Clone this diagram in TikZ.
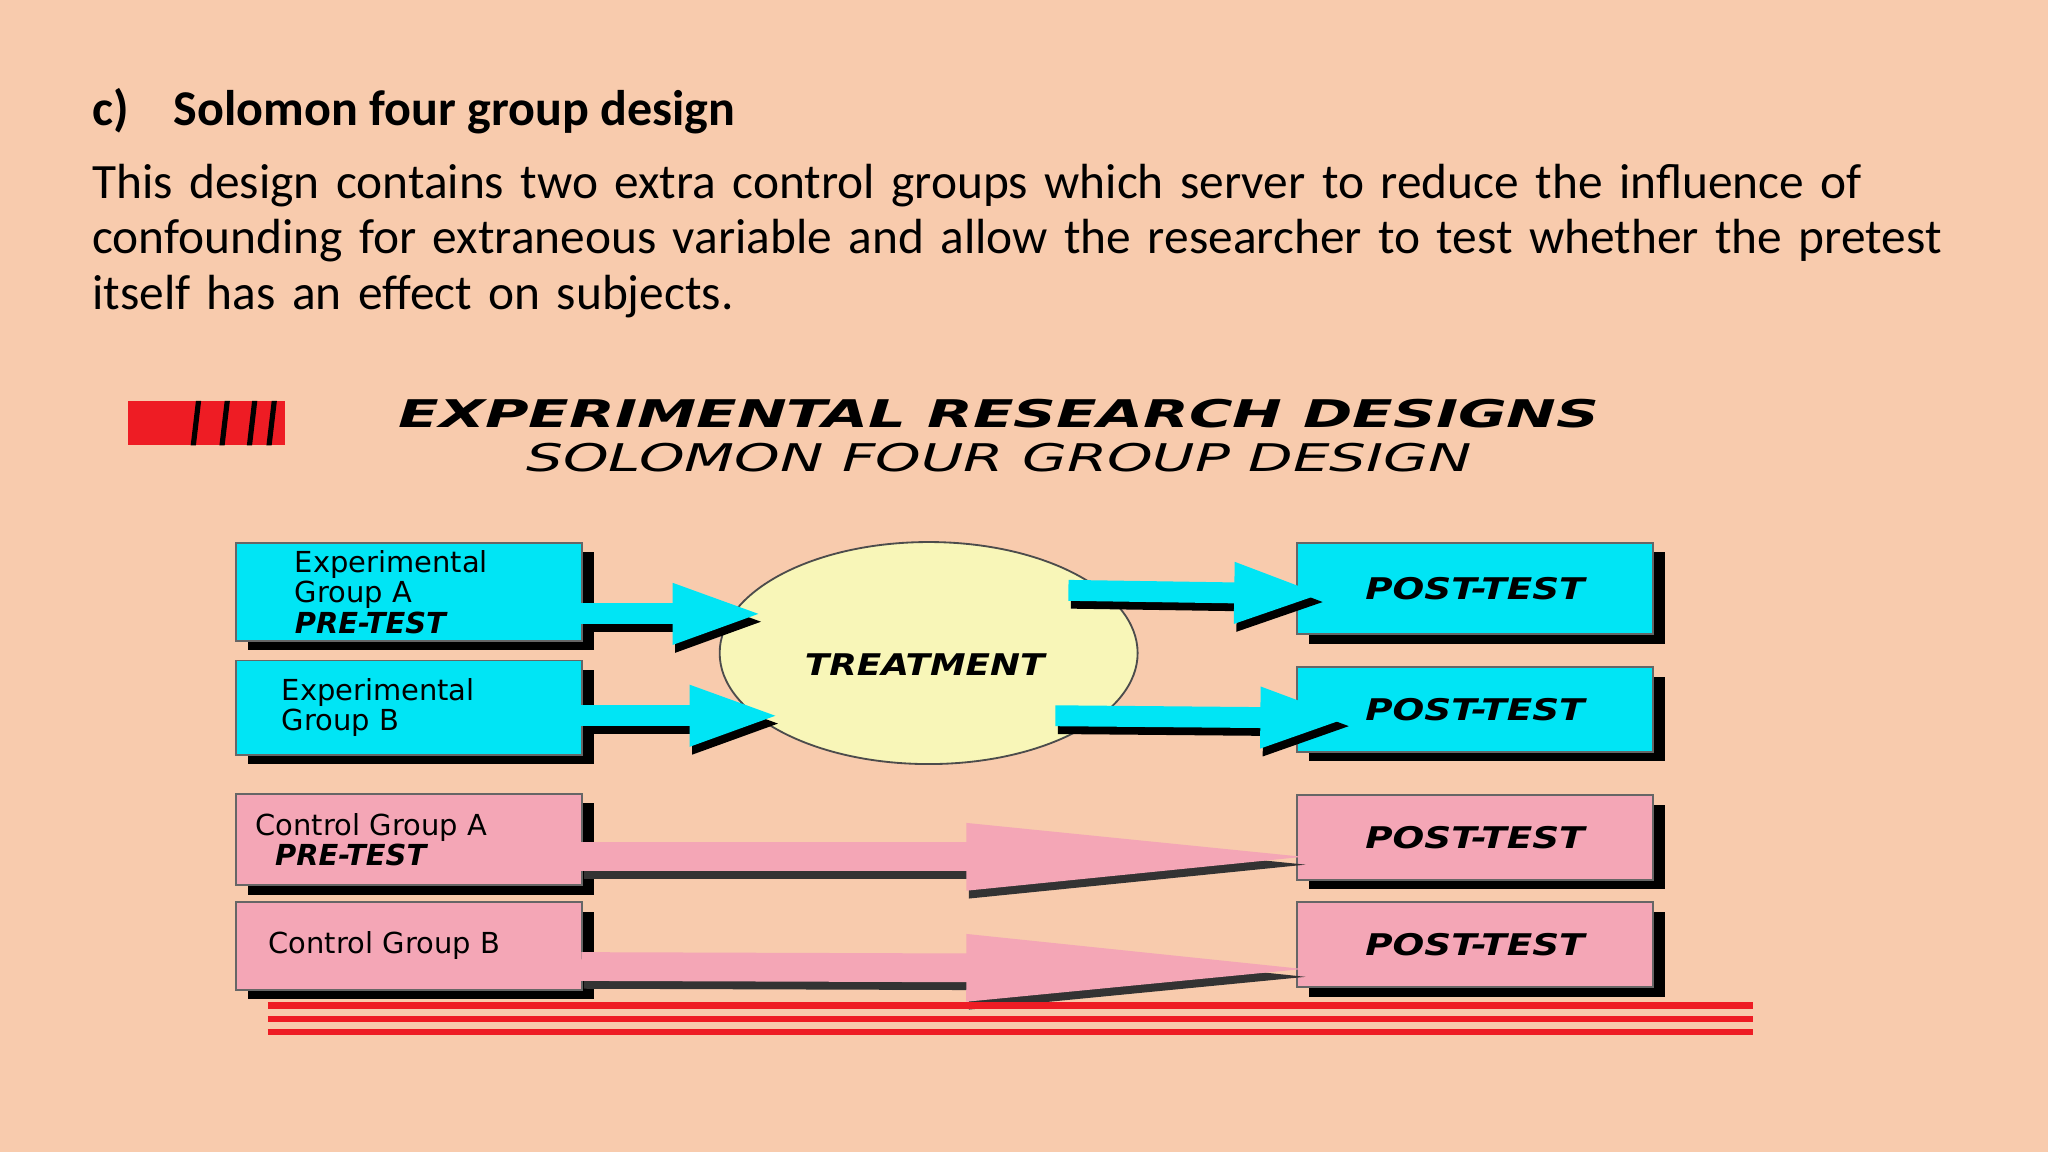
\documentclass[tikz,border=0pt]{standalone}
\usepackage{fontspec}
\setmainfont{Carlito}
\newfontfamily\diag{DejaVu Sans}
\usetikzlibrary{arrows.meta}
\definecolor{bg}{HTML}{F8CBAD}
\definecolor{cy}{HTML}{00E5F5}
\definecolor{pk}{HTML}{F4A6B6}
\definecolor{ell}{HTML}{F8F6B8}
\definecolor{rd}{HTML}{EE1C24}
\tikzset{
 box/.style={draw=black!60,line width=0.4pt,minimum width=2.65cm,anchor=north west,inner sep=0pt,
   font=\diag\fontsize{6.3}{6.6}\selectfont,text width=2.55cm,align=left},
 pbox/.style={box,minimum width=2.73cm,align=center,text width=2.5cm},
 shadow/.style={fill=black},
 cyarrow/.style={line width=0.16cm,cy,-{Triangle[length=0.7cm,width=0.42cm]}},
 pkarrow/.style={line width=0.22cm,pk,-{Triangle[length=2.9cm,width=0.45cm]}},
 sharrow/.style={line width=0.16cm,black,-{Triangle[length=0.7cm,width=0.42cm]}},
 spkarrow/.style={line width=0.22cm,black!80,-{Triangle[length=2.9cm,width=0.45cm]}},
}
\begin{document}
\begin{tikzpicture}[x=0.01cm,y=-0.01cm]
\fill[bg] (0,0) rectangle (1568,882);
\useasboundingbox (0,0) rectangle (1568,882);
\node[anchor=base west,inner sep=0pt,font=\fontsize{10.9}{12}\selectfont\bfseries] (ttl) at (70,96) {c)\hspace{0.9em}Solomon four group design};
\node[anchor=north west,text width=14.9cm,align=left,inner sep=0pt,font=\fontsize{10.75}{12.05}\selectfont] (body) at (70,125)
 {This design contains two extra control groups which server to reduce the influence of\\ confounding for extraneous variable and allow the researcher to test whether the pretest\\ itself has an effect on subjects.};
% icon
\fill[rd] (98,307) rectangle (218,341);
\foreach \x in {150,172,193,208}{\fill[black] (\x,307) -- (\x+4,307) -- (\x,341) -- (\x-4,341) -- cycle;}
\node[font=\diag\bfseries\itshape\fontsize{8.3}{9}\selectfont,xscale=1.56] (h1) at (765,317) {EXPERIMENTAL RESEARCH DESIGNS};
\node[font=\diag\itshape\fontsize{8.3}{9}\selectfont,xscale=1.52] (h2) at (765,350) {SOLOMON FOUR GROUP DESIGN};
% ellipse
\draw[fill=ell,draw=black!70] (711,500) ellipse [x radius=160,y radius=85];
\node[font=\diag\bfseries\itshape\fontsize{6.5}{7}\selectfont,xscale=1.2] (tr) at (708,509) {TREATMENT};
% shadows
\foreach \y/\h in {415/75,505/72,607/70,690/67}{\fill[shadow] (190,\y+8) rectangle (455,\y+\h+8);}
\foreach \y/\h in {415/70,510/65,608/65,690/65}{\fill[shadow] (1002,\y+8) rectangle (1275,\y+\h+8);}
\node[box,fill=cy,minimum height=0.75cm] (ea) at (180,415) {\hspace*{0.4cm}Experimental\\\hspace*{0.4cm}Group A\\\hspace*{0.4cm}\textbf{\textit{PRE-TEST}}};
\node[box,fill=cy,minimum height=0.72cm] (eb) at (180,505) {\hspace*{0.3cm}Experimental\\\hspace*{0.3cm}Group B\\[1.5ex]};
\node[box,fill=pk,minimum height=0.70cm] (ca) at (180,607) {\hspace*{0.1cm}Control Group A\\\hspace*{0.25cm}\textbf{\textit{PRE-TEST}}\\[0.8ex]};
\node[box,fill=pk,minimum height=0.67cm] (cb) at (180,690) {\hspace*{0.2cm}Control Group B};
\foreach \n/\y/\h/\c in {pa/415/70/cy,pb/510/65/cy,pc/608/65/pk,pd/690/65/pk}{
 \node[pbox,fill=\c,minimum height=\h*0.01cm,font=\diag\bfseries\itshape\fontsize{6.5}{7}\selectfont] (\n) at (992,\y) {\scalebox{1.25}[1]{POST-TEST}};}
% arrows
\coordinate (a1s) at (445,470); \coordinate (a1e) at (585,470);
\coordinate (a2s) at (445,548); \coordinate (a2e) at (598,548);
\coordinate (a3s) at (818,452); \coordinate (a3e) at (1015,455);
\coordinate (a4s) at (808,548); \coordinate (a4e) at (1035,550);
\foreach \s/\e in {a1s/a1e,a2s/a2e,a3s/a3e,a4s/a4e}{
 \draw[sharrow] ([shift={(2,6)}]\s) -- ([shift={(2,6)}]\e);
 \draw[cyarrow] (\s) -- (\e);}
\coordinate (p1s) at (445,656); \coordinate (p1e) at (1030,656);
\coordinate (p2s) at (445,740); \coordinate (p2e) at (1030,742);
\foreach \s/\e in {p1s/p1e,p2s/p2e}{
 \draw[spkarrow] ([shift={(2,6)}]\s) -- ([shift={(2,6)}]\e);
 \draw[pkarrow] (\s) -- (\e);}
% red lines
\foreach \y in {770,780,790}{\draw[rd,line width=0.05cm] (205,\y) -- (1342,\y);}
\end{tikzpicture}
\end{document}
